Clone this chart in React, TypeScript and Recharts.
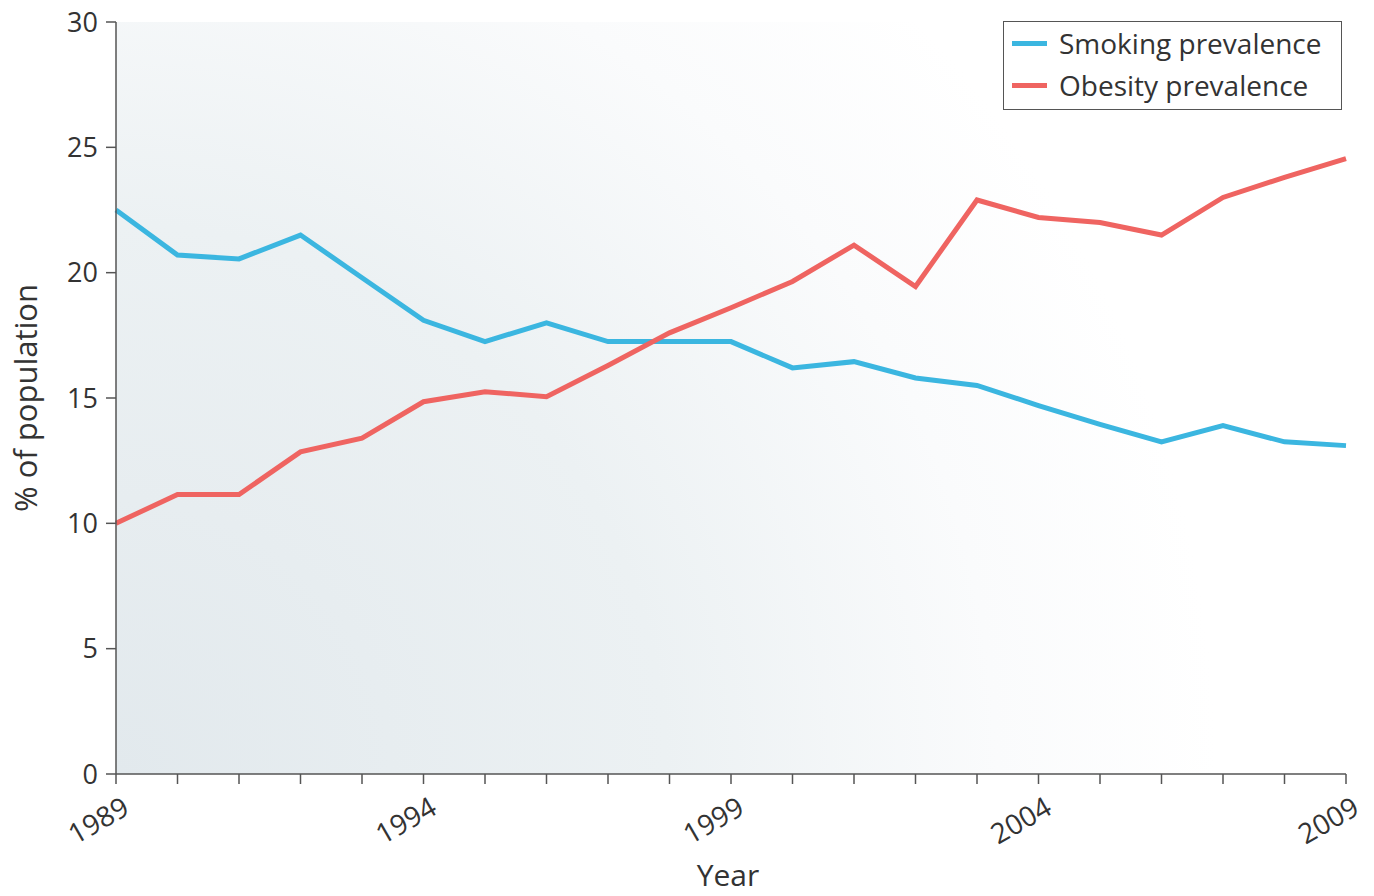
import React from "react";
import { LineChart, Line, XAxis, YAxis, CartesianGrid, Legend } from "recharts";

const years = [
  1989, 1990, 1991, 1992, 1993, 1994, 1995, 1996, 1997, 1998, 1999,
  2000, 2001, 2002, 2003, 2004, 2005, 2006, 2007, 2008, 2009,
];
const smoking = [
  22.5, 20.7, 20.55, 21.5, 19.8, 18.1, 17.25, 18.0, 17.25, 17.25, 17.25,
  16.2, 16.45, 15.8, 15.5, 14.7, 13.95, 13.25, 13.9, 13.25, 13.1,
];
const obesity = [
  10.0, 11.15, 11.15, 12.85, 13.4, 14.85, 15.25, 15.05, 16.3, 17.6, 18.6,
  19.65, 21.1, 19.45, 22.9, 22.2, 22.0, 21.5, 23.0, 23.8, 24.55,
];
const yTicks = [0, 5, 10, 15, 20, 25, 30];
const labelledYears = [1989, 1994, 1999, 2004, 2009];

const data = years.map((year, i) => ({
  year,
  smoking: smoking[i],
  obesity: obesity[i],
}));

const FONT = "'Open Sans', sans-serif";
const AXIS = "#555";
const BLUE = "#3bb6e0";
const RED = "#ef6461";

function YearTick(props: any) {
  const { x, y, payload } = props;
  if (!labelledYears.includes(payload.value)) return null;
  const px = x + 15;
  const py = y + 29;
  return (
    <text
      x={px}
      y={py}
      transform={`rotate(-30, ${px}, ${py})`}
      textAnchor="end"
      fill="#333"
      fontSize={28}
      fontFamily={FONT}
    >
      {payload.value}
    </text>
  );
}

function LegendBox() {
  const items = [
    { name: "Smoking prevalence", color: BLUE },
    { name: "Obesity prevalence", color: RED },
  ];
  return (
    <div
      style={{
        width: 339,
        height: 89,
        boxSizing: "border-box",
        border: `1.5px solid ${AXIS}`,
        background: "#fff",
        paddingTop: 0,
        fontFamily: FONT,
      }}
    >
      {items.map((it) => (
        <div key={it.name} style={{ display: "flex", alignItems: "center", height: 42 }}>
          <span
            style={{
              display: "inline-block",
              width: 35,
              height: 5,
              marginLeft: 8,
              marginRight: 12,
              background: it.color,
            }}
          />
          <span style={{ fontSize: 28, color: "#333", lineHeight: "42px" }}>{it.name}</span>
        </div>
      ))}
    </div>
  );
}

export default function App() {
  return (
    <div style={{ position: "absolute", left: 0, top: 0, background: "#fff" }}>
      <LineChart
        width={1374}
        height={896}
        data={data}
        margin={{ top: 22, right: 28, bottom: 0, left: 0 }}
      >
        <defs>
          <radialGradient id="bg" gradientUnits="userSpaceOnUse" cx={116} cy={774} r={1100}>
            <stop offset="0" stopColor="#e2e9ed" />
            <stop offset="0.5" stopColor="#ecf1f3" />
            <stop offset="0.8" stopColor="#fafbfc" />
            <stop offset="1" stopColor="#ffffff" />
          </radialGradient>
        </defs>
        <CartesianGrid horizontal={false} vertical={false} fill="url(#bg)" />
        <XAxis
          dataKey="year"
          type="category"
          height={122}
          interval={0}
          stroke={AXIS}
          strokeWidth={1.5}
          tickSize={10}
          tickMargin={0}
          tick={<YearTick />}
          label={{
            value: "Year",
            position: "insideBottom",
            offset: 10,
            dx: -3,
            fill: "#333",
            fontSize: 30,
            fontFamily: FONT,
          }}
        />
        <YAxis
          domain={[0, 30]}
          ticks={yTicks}
          width={116}
          interval={0}
          stroke={AXIS}
          strokeWidth={1.5}
          tickSize={10}
          tickMargin={8}
          tick={{ fill: "#333", fontSize: 27, fontFamily: FONT }}
          label={{
            value: "% of population",
            angle: -90,
            position: "center",
            dx: -32,
            fill: "#333",
            fontSize: 31,
            fontFamily: FONT,
          }}
        />
        <Legend
          layout="vertical"
          align="center"
          verticalAlign="middle"
          content={<LegendBox />}
          wrapperStyle={{ left: 1003, top: 21, width: 339, height: 89 }}
        />
        <Line
          dataKey="smoking"
          name="Smoking prevalence"
          stroke={BLUE}
          strokeWidth={5}
          dot={false}
          activeDot={false}
          strokeLinejoin="miter"
          isAnimationActive={false}
        />
        <Line
          dataKey="obesity"
          name="Obesity prevalence"
          stroke={RED}
          strokeWidth={5}
          dot={false}
          activeDot={false}
          strokeLinejoin="miter"
          isAnimationActive={false}
        />
      </LineChart>
    </div>
  );
}
